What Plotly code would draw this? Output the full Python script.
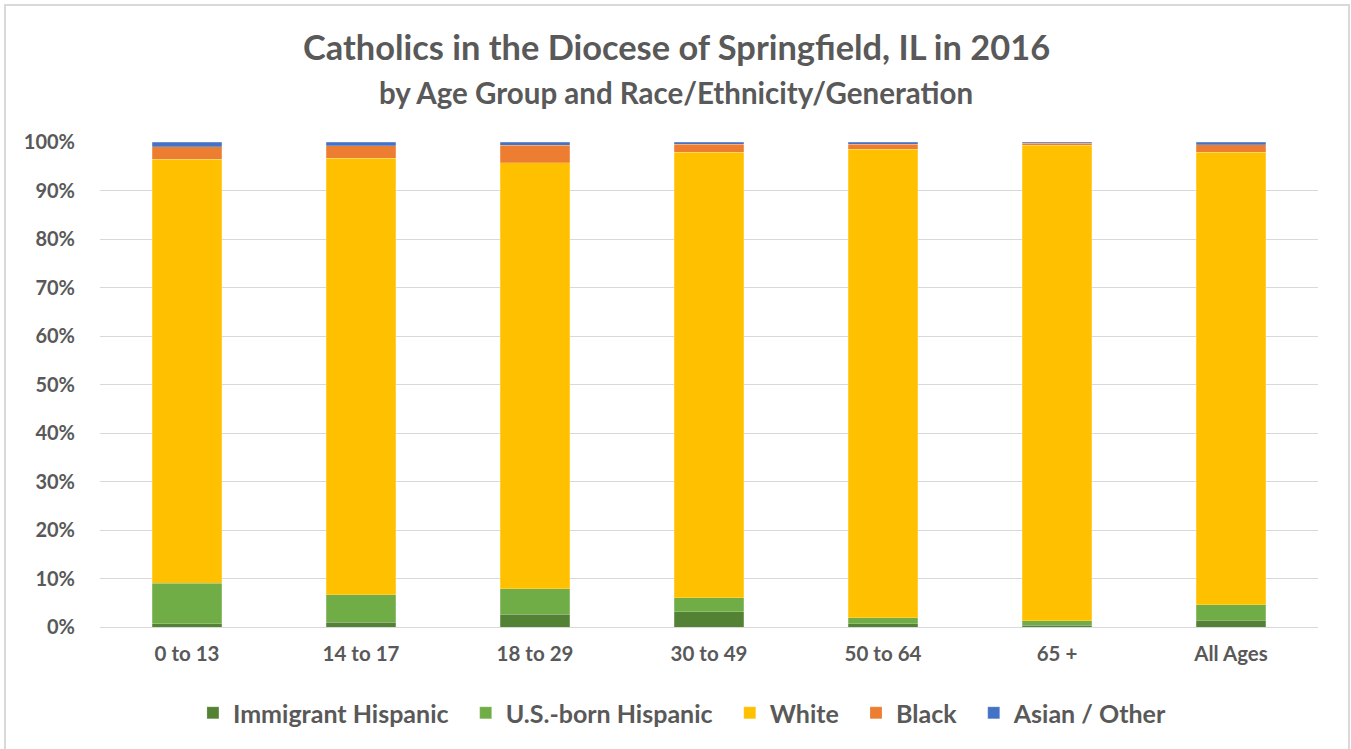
import plotly.graph_objects as go

categories = ["0 to 13", "14 to 17", "18 to 29", "30 to 49", "50 to 64", "65 +", "All Ages"]
immigrant_hispanic = [0.7, 1.0, 2.6, 3.1, 0.7, 0.4, 1.4]
us_born_hispanic = [8.3, 5.6, 5.25, 2.9, 1.2, 0.85, 3.2]
white = [87.4, 90.0, 87.85, 91.9, 96.6, 98.05, 93.3]
black = [2.6, 2.6, 3.6, 1.6, 1.0, 0.4, 1.5]
asian_other = [1.0, 0.8, 0.7, 0.5, 0.5, 0.3, 0.6]

series = [
    ("Immigrant Hispanic", immigrant_hispanic, "#548235"),
    ("U.S.-born Hispanic", us_born_hispanic, "#70AD47"),
    ("White", white, "#FFC000"),
    ("Black", black, "#ED7D31"),
    ("Asian / Other", asian_other, "#4472C4"),
]

FONT = "Lato"
GREY = "#595959"
PAD = "\u00a0\u00a0"

fig = go.Figure()
for i, (name, vals, color) in enumerate(series):
    total = [sum(s[1][k] for s in series) for k in range(len(categories))]
    fig.add_trace(go.Bar(
        name=name + (PAD if i < len(series) - 1 else ""), x=categories,
        y=[v / t for v, t in zip(vals, total)],
        marker=dict(color=color, line=dict(color="rgba(255,255,255,0.35)", width=0.6)),
    ))

fig.update_layout(
    barmode="stack",
    bargap=0.6,
    width=1351, height=749,
    margin=dict(l=100, r=33, t=142, b=122),
    paper_bgcolor="white", plot_bgcolor="white",
    font=dict(family=FONT, color=GREY),
    showlegend=True,
    legend=dict(orientation="h", xref="container", yref="container",
                x=0.5055, xanchor="center", y=0.048, yanchor="middle",
                font=dict(size=25, family=FONT, color=GREY, weight="bold"),
                traceorder="normal", itemwidth=30),
    xaxis=dict(showgrid=False, showline=False, ticks="", ticklabelstandoff=12,
               tickfont=dict(size=20.5, family=FONT, color=GREY, weight="bold")),
    yaxis=dict(range=[0, 1], dtick=0.1, tickformat=".0%", showgrid=True,
               gridcolor="#D9D9D9", gridwidth=1.3, zeroline=True,
               zerolinecolor="#D9D9D9", zerolinewidth=1.3, showline=False,
               ticklabelstandoff=24,
               tickfont=dict(size=20, family=FONT, color=GREY, weight="bold")),
    annotations=[
        dict(text="Catholics in the Diocese of Springfield, IL in 2016", xref="paper", yref="paper",
             x=0.473, y=1.196, xanchor="center", yanchor="middle", showarrow=False,
             font=dict(size=34.4, family=FONT, color=GREY, weight="bold")),
        dict(text="by Age Group and Race/Ethnicity/Generation", xref="paper", yref="paper",
             x=0.473, y=1.103, xanchor="center", yanchor="middle", showarrow=False,
             font=dict(size=29.5, family=FONT, color=GREY, weight="bold")),
    ],
    shapes=[dict(type="rect", xref="paper", yref="paper",
                 x0=(5 - 100) / 1218, x1=(1349 - 100) / 1218,
                 y0=(627 - 760) / 485, y1=(627 - 5) / 485,
                 line=dict(color="#D9D9D9", width=2), layer="below")],
)

fig.write_html("out.html", config={"displayModeBar": False},
               post_script="document.body.style.margin='0';")
